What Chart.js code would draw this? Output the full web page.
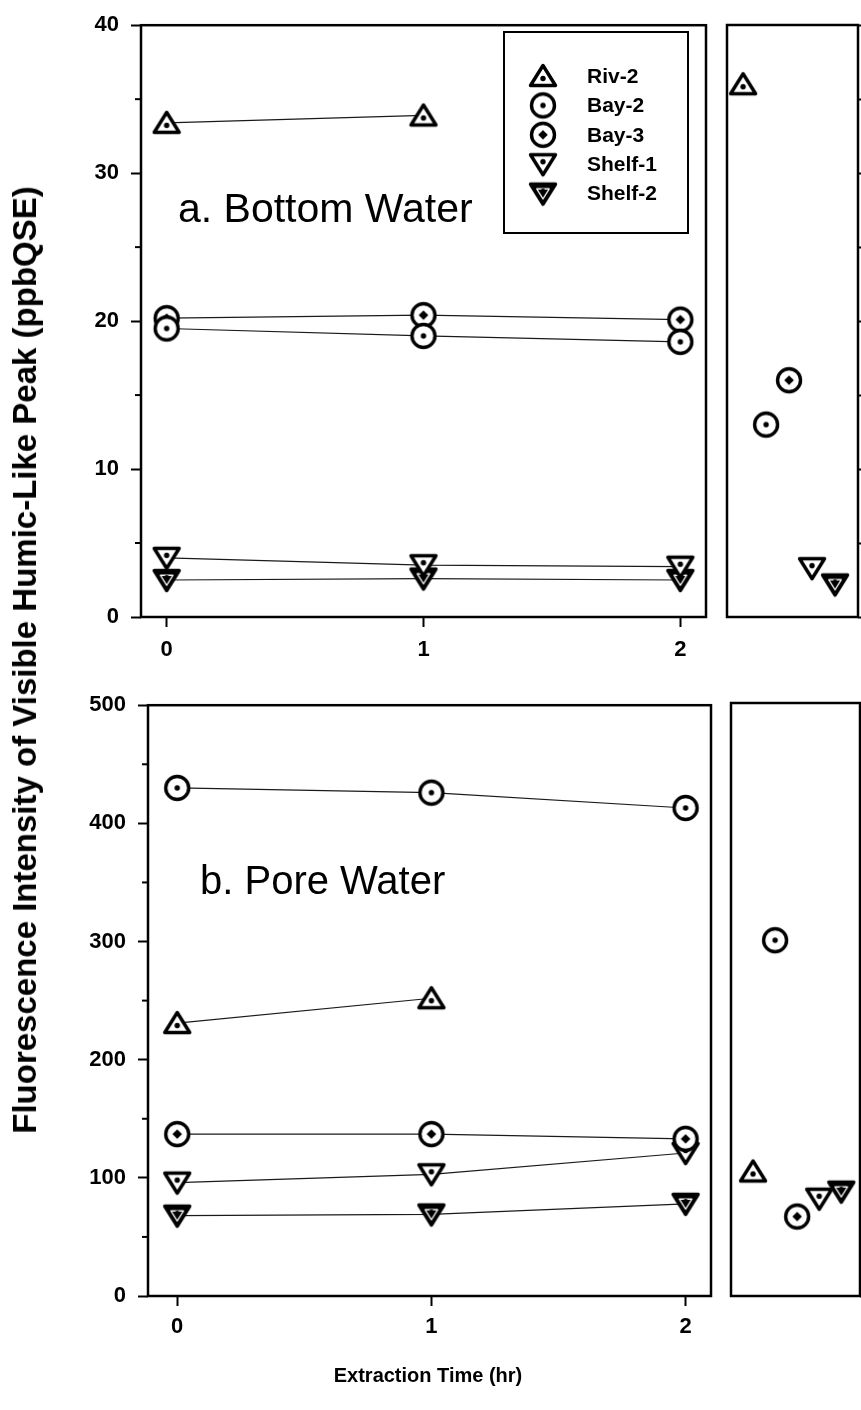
<!DOCTYPE html>
<html>
<head>
<meta charset="utf-8">
<title>Visible humic-like peak vs extraction time</title>
<script src="https://cdn.jsdelivr.net/npm/chart.js@4.4.1/dist/chart.umd.min.js"></script>
<style>
  html, body { margin: 0; padding: 0; background: #fff; }
  body { position: relative; width: 861px; height: 1410px; overflow: hidden; font-family: "Liberation Sans", Arial, sans-serif; color: #000; }
  canvas { position: absolute; }
  #yTitle { position: absolute; left: 25px; top: 660px; transform: translate(-50%, -50%) rotate(-90deg); white-space: nowrap; font-size: 33px; font-weight: bold; }
  #xTitle { position: absolute; left: 428px; top: 1375px; transform: translate(-50%, -50%); white-space: nowrap; font-size: 20px; font-weight: bold; }
</style>
</head>
<body>
<canvas id="bottomTime" width="716" height="680" style="left:0;top:0"></canvas>
<canvas id="bottomSite" width="145" height="680" style="left:716px;top:0"></canvas>
<canvas id="poreTime" width="720" height="730" style="left:0;top:680px"></canvas>
<canvas id="poreSite" width="143" height="730" style="left:720px;top:680px"></canvas>
<div id="yTitle">Fluorescence Intensity of Visible Humic-Like Peak (ppbQSE)</div>
<div id="xTitle">Extraction Time (hr)</div>
<script>
const sites = ['Riv-2', 'Bay-2', 'Bay-3', 'Shelf-1', 'Shelf-2'];
const hours = [0, 1, 2];
const sitePos = [0, 1, 2, 3, 4];

// a. bottom water (ppbQSE) at 0, 1, 2 hr
const bottomRiv2 = [33.4, 33.9];
const bottomBay2 = [19.5, 19.0, 18.6];
const bottomBay3 = [20.2, 20.4, 20.1];
const bottomShelf1 = [4.0, 3.5, 3.4];
const bottomShelf2 = [2.5, 2.6, 2.5];
// a. bottom water, side panel, one value per site
const bottomSide = [36.0, 13.0, 16.0, 3.3, 2.2];

// b. pore water (ppbQSE) at 0, 1, 2 hr
const poreRiv2 = [231, 252];
const poreBay2 = [430, 426, 413];
const poreBay3 = [137, 137, 133];
const poreShelf1 = [96, 103, 121];
const poreShelf2 = [68, 69, 78];
const poreSide = [105, 300, 67, 82, 88];

const bottomTicks = [0, 10, 20, 30, 40];
const bottomSideTicks = [0, 5, 10, 15, 20, 25, 30, 35, 40];
const poreTicks = [0, 100, 200, 300, 400, 500];
const poreSideTicks = [0, 50, 100, 150, 200, 250, 300, 350, 400, 450, 500];
const hourTicks = [0, 1, 2];

const FONT = '"Liberation Sans", Arial, sans-serif';

// symbols: open triangle, open circle, circle with big dot, open down triangle, filled down triangle
function makeMarker(kind) {
  const c = document.createElement('canvas');
  c.width = 34; c.height = 34;
  const g = c.getContext('2d');
  const cx = 17, cy = 17;
  g.lineWidth = 3.4;
  g.lineJoin = 'round';
  g.strokeStyle = '#000';
  g.fillStyle = '#fff';
  const dot = (x, y, r) => { g.fillStyle = '#000'; g.beginPath(); g.arc(x, y, r, 0, Math.PI * 2); g.fill(); };
  const tri = (dir, s) => {
    g.beginPath();
    g.moveTo(cx, cy - dir * 10.5 * s);
    g.lineTo(cx + 12.5 * s, cy + dir * 9.5 * s);
    g.lineTo(cx - 12.5 * s, cy + dir * 9.5 * s);
    g.closePath();
  };
  if (kind === 'circle' || kind === 'circleDot') {
    g.beginPath(); g.arc(cx, cy, 11.5, 0, Math.PI * 2); g.fill(); g.stroke();
    if (kind === 'circle') {
      dot(cx, cy, 2.7);
    } else {
      g.fillStyle = '#000';
      g.beginPath();
      g.moveTo(cx, cy - 4.8); g.lineTo(cx + 4.8, cy); g.lineTo(cx, cy + 4.8); g.lineTo(cx - 4.8, cy);
      g.closePath(); g.fill();
    }
  } else if (kind === 'up') {
    tri(1, 1); g.fill(); g.stroke();
    dot(cx, cy + 2.5, 2.7);
  } else if (kind === 'down') {
    tri(-1, 1); g.fill(); g.stroke();
    dot(cx, cy - 2.5, 2.7);
  } else {
    g.fillStyle = '#000';
    tri(-1, 1); g.fill(); g.stroke();
    g.strokeStyle = '#fff'; g.lineWidth = 1.4;
    tri(-1, 0.5); g.stroke();
    dot(cx, cy - 2.5, 2.5);
  }
  return c;
}
const markers = ['up', 'circle', 'circleDot', 'down', 'downFilled'].map(makeMarker);

// black box round the plotting area
const framePlugin = {
  id: 'frame',
  beforeDatasetsDraw(chart) {
    const a = chart.chartArea, ctx = chart.ctx;
    ctx.save();
    ctx.strokeStyle = '#000';
    ctx.lineWidth = 2.5;
    ctx.strokeRect(a.left, a.top, a.right - a.left, a.bottom - a.top);
    ctx.restore();
  }
};

// short ticks half way between the labelled ones
const minorTickPlugin = {
  id: 'minorTicks',
  afterDraw(chart, args, opts) {
    const s = chart.scales.y, ctx = chart.ctx;
    const vals = s.ticks.map(t => t.value);
    ctx.save();
    ctx.strokeStyle = '#000';
    ctx.lineWidth = 2;
    for (let i = 0; i < vals.length - 1; i++) {
      const py = s.getPixelForValue((vals[i] + vals[i + 1]) / 2);
      ctx.beginPath();
      ctx.moveTo(s.right - opts.length, py);
      ctx.lineTo(s.right, py);
      ctx.stroke();
    }
    ctx.restore();
  }
};

const panelLabelPlugin = {
  id: 'panelLabel',
  afterDraw(chart, args, opts) {
    const ctx = chart.ctx;
    ctx.save();
    ctx.font = opts.size + 'px ' + FONT;
    ctx.fillStyle = '#000';
    ctx.textBaseline = 'alphabetic';
    ctx.fillText(opts.text, opts.x, opts.y);
    ctx.restore();
  }
};

// boxed key of the five sites
const keyPlugin = {
  id: 'siteKey',
  afterDraw(chart, args, opts) {
    if (!opts.show) return;
    const ctx = chart.ctx;
    ctx.save();
    ctx.strokeStyle = '#000';
    ctx.lineWidth = 2;
    ctx.strokeRect(opts.box[0], opts.box[1], opts.box[2], opts.box[3]);
    ctx.font = 'bold 21px ' + FONT;
    ctx.fillStyle = '#000';
    ctx.textBaseline = 'middle';
    chart.data.datasets.forEach((ds, i) => {
      const y = opts.firstY + i * opts.rowGap;
      const m = ds.pointStyle;
      ctx.drawImage(m, opts.symbolX - m.width / 2, y - m.height / 2);
      ctx.fillText(ds.label, opts.textX, y + 1);
    });
    ctx.restore();
  }
};

function timeSets(series) {
  return series.map((vals, i) => ({
    label: sites[i],
    data: vals.map((v, j) => ({ x: hours[j], y: v })),
    showLine: true,
    borderColor: '#1a1a1a',
    borderWidth: 1.2,
    pointStyle: markers[i],
    pointRadius: 12,
    clip: false
  }));
}

function siteSets(vals) {
  return vals.map((v, i) => ({
    label: sites[i],
    data: [{ x: sitePos[i], y: v }],
    pointStyle: markers[i],
    pointRadius: 12,
    clip: false
  }));
}

const tickGrid = { drawOnChartArea: false, drawTicks: true, tickLength: 10, tickWidth: 2, tickColor: '#000' };
const tickFont = { family: FONT, size: 22, weight: 'bold' };

function timeChart(id, o) {
  return new Chart(document.getElementById(id), {
    type: 'scatter',
    data: { datasets: timeSets(o.series) },
    options: {
      responsive: false,
      animation: false,
      events: [],
      layout: { padding: o.padding, autoPadding: false },
      scales: {
        x: {
          type: 'linear', min: o.xMin, max: 2.1,
          afterBuildTicks: s => { s.ticks = hourTicks.map(v => ({ value: v })); },
          afterFit: s => { s.height = o.xHeight; },
          grid: tickGrid, border: { display: false },
          ticks: { color: '#000', font: tickFont, padding: o.xPad, maxRotation: 0 }
        },
        y: {
          type: 'linear', min: 0, max: o.yMax,
          afterBuildTicks: s => { s.ticks = o.yTicks.map(v => ({ value: v })); },
          afterFit: s => { s.width = o.yWidth; },
          grid: tickGrid, border: { display: false },
          ticks: { color: '#000', font: tickFont, padding: 12 }
        }
      },
      plugins: {
        legend: { display: false },
        tooltip: { enabled: false },
        minorTicks: { length: 6 },
        panelLabel: o.label,
        siteKey: o.key || { show: false }
      }
    },
    plugins: [framePlugin, minorTickPlugin, panelLabelPlugin, keyPlugin]
  });
}

function siteChart(id, o) {
  return new Chart(document.getElementById(id), {
    type: 'scatter',
    data: { datasets: siteSets(o.values) },
    options: {
      responsive: false,
      animation: false,
      events: [],
      layout: { padding: o.padding, autoPadding: false },
      scales: {
        x: { type: 'linear', display: false, min: o.xMin, max: o.xMax },
        y: {
          type: 'linear', position: 'right', min: 0, max: o.yMax,
          afterBuildTicks: s => { s.ticks = o.yTicks.map(v => ({ value: v })); },
          afterFit: s => { s.width = 3; },
          grid: { drawOnChartArea: false, drawTicks: true, tickLength: 8, tickWidth: 2, tickColor: '#000' },
          border: { display: false },
          ticks: { display: false }
        }
      },
      plugins: { legend: { display: false }, tooltip: { enabled: false } }
    },
    plugins: [framePlugin]
  });
}

timeChart('bottomTime', {
  series: [bottomRiv2, bottomBay2, bottomBay3, bottomShelf1, bottomShelf2],
  yMax: 40, yTicks: bottomTicks, xMin: -0.1,
  padding: { top: 25, right: 10, left: 0, bottom: 0 },
  yWidth: 141, xHeight: 63, xPad: 10,
  label: { text: 'a. Bottom Water', x: 178, y: 222, size: 41 },
  key: { show: true, box: [504, 32, 184, 201], firstY: 76, rowGap: 29.4, symbolX: 543, textX: 587 }
});

siteChart('bottomSite', {
  values: bottomSide, yMax: 40, yTicks: bottomSideTicks,
  xMin: -0.7, xMax: 5.0,
  padding: { top: 25, right: 0, left: 11, bottom: 63 }
});

timeChart('poreTime', {
  series: [poreRiv2, poreBay2, poreBay3, poreShelf1, poreShelf2],
  yMax: 500, yTicks: poreTicks, xMin: -0.115,
  padding: { top: 23, right: 9, left: 0, bottom: 0 },
  yWidth: 148, xHeight: 114, xPad: 8,
  label: { text: 'b. Pore Water', x: 200, y: 214, size: 40 }
});

siteChart('poreSite', {
  values: poreSide, yMax: 500, yTicks: poreSideTicks,
  xMin: -1.0, xMax: 4.85,
  padding: { top: 23, right: 0, left: 11, bottom: 114 }
});
</script>
</body>
</html>
